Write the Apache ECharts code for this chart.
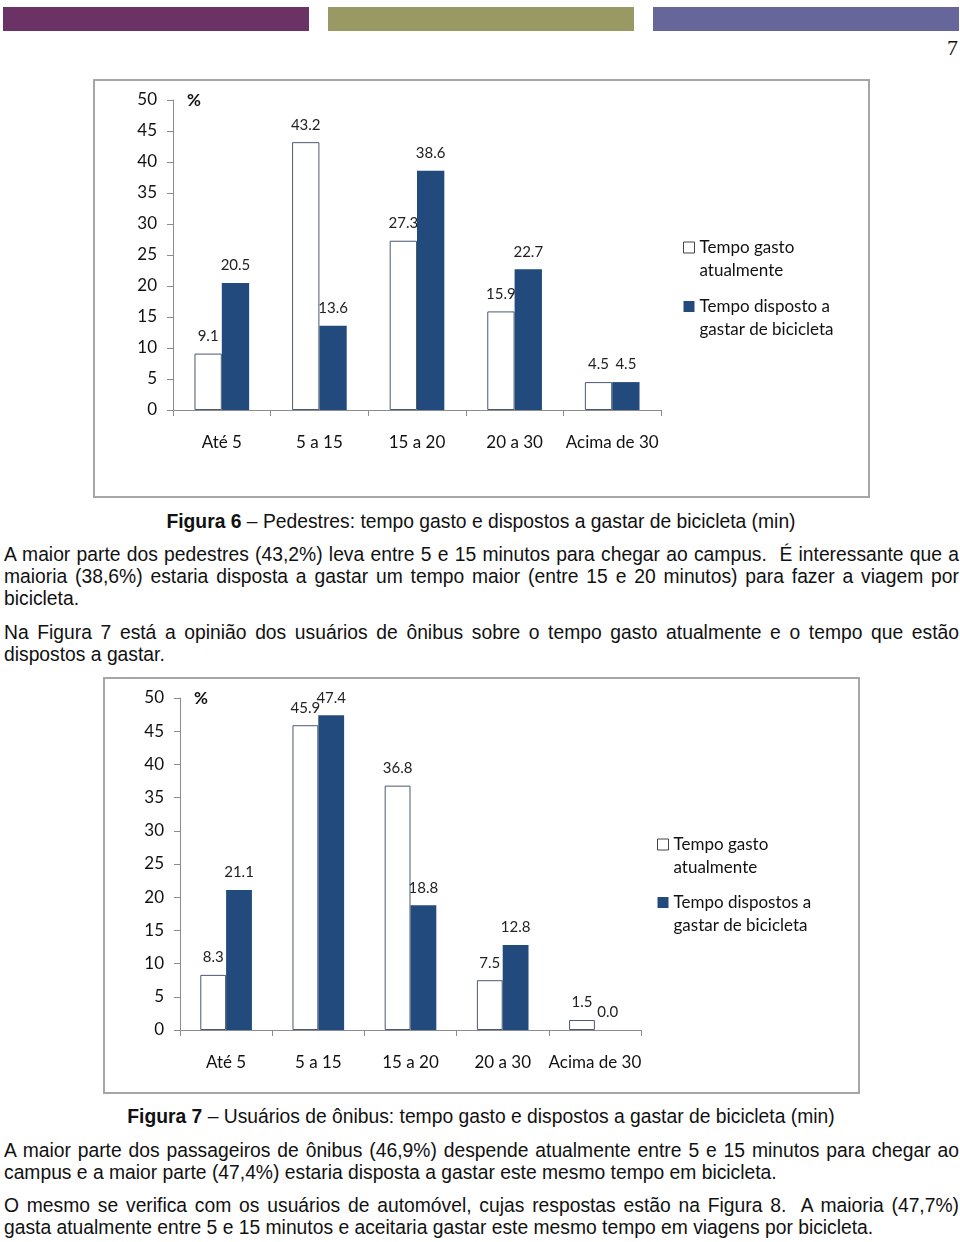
<!DOCTYPE html>
<html><head><meta charset="utf-8">
<script src="https://cdn.jsdelivr.net/npm/echarts@6/dist/echarts.min.js"></script>
<style>
html,body{margin:0;padding:0;background:#fff;}
body{width:960px;height:1242px;position:relative;overflow:hidden;font-family:"Liberation Sans",Arial,sans-serif;color:#111;}
.bar{position:absolute;top:7px;height:24px;}
.chart{position:absolute;border:2px solid #a6a6a6;box-sizing:border-box;}
.txt{position:absolute;left:4px;width:955px;font-size:19.3px;line-height:22px;text-align:justify;text-align-last:left;}
.cap{position:absolute;left:0;width:962px;font-size:19.3px;line-height:22px;text-align:center;}
</style></head>
<body>
<div class="bar" style="left:3px;width:306px;background:#6a3265"></div>
<div class="bar" style="left:328px;width:306px;background:#999a63"></div>
<div class="bar" style="left:653px;width:306px;background:#66669a"></div>
<div style="position:absolute;left:947px;top:35px;font-family:'Liberation Serif',serif;font-size:22px;">7</div>

<div id="c1" class="chart" style="left:93px;top:79px;width:777px;height:419px;"></div>
<div class="cap" style="top:511px;"><b>Figura 6</b> – Pedestres: tempo gasto e dispostos a gastar de bicicleta (min)</div>
<div class="txt" style="top:544px;">A maior parte dos pedestres (43,2%) leva entre 5 e 15 minutos para chegar ao campus.&nbsp; É interessante que a maioria (38,6%) estaria disposta a gastar um tempo maior (entre 15 e 20 minutos) para fazer a viagem por bicicleta.</div>
<div class="txt" style="top:622px;">Na Figura 7 está a opinião dos usuários de ônibus sobre o tempo gasto atualmente e o tempo que estão dispostos a gastar.</div>

<div id="c2" class="chart" style="left:103px;top:677px;width:757px;height:417px;"></div>
<div class="cap" style="top:1106px;"><b>Figura 7</b> – Usuários de ônibus: tempo gasto e dispostos a gastar de bicicleta (min)</div>
<div class="txt" style="top:1140px;">A maior parte dos passageiros de ônibus (46,9%) despende atualmente entre 5 e 15 minutos para chegar ao campus e a maior parte (47,4%) estaria disposta a gastar este mesmo tempo em bicicleta.</div>
<div class="txt" style="top:1195px;">O mesmo se verifica com os usuários de automóvel, cujas respostas estão na Figura 8.&nbsp; A maioria (47,7%) gasta atualmente entre 5 e 15 minutos e aceitaria gastar este mesmo tempo em viagens por bicicleta.</div>

<script>
const categories = ['Até 5', '5 a 15', '15 a 20', '20 a 30', 'Acima de 30'];
const yTicks = [0, 5, 10, 15, 20, 25, 30, 35, 40, 45, 50];
const fig6Atual = [9.1, 43.2, 27.3, 15.9, 4.5];
const fig6Disposto = [20.5, 13.6, 38.6, 22.7, 4.5];
const fig7Atual = [8.3, 45.9, 36.8, 7.5, 1.5];
const fig7Disposto = [21.1, 47.4, 18.8, 12.8, 0.0];
const fig6Names = ['Tempo gasto\natualmente', 'Tempo disposto a\ngastar de bicicleta'];
const fig7Names = ['Tempo gasto\natualmente', 'Tempo dispostos a\ngastar de bicicleta'];

const FONT = 'Lato, "Open Sans", sans-serif';
const BLUE = '#224a7c';
const EDGE = '#4b5870';

function makeOption(names, atual, disposto, g, lg) {
  const lab = {
    show: true, position: 'top', distance: 10, color: '#222',
    fontFamily: FONT, fontSize: 15,
    formatter: p => Number(p.value).toFixed(1)
  };
  return {
    animation: false,
    textStyle: { fontFamily: FONT },
    grid: { left: g.left, top: g.top, width: g.width, height: g.height },
    legend: {
      orient: 'vertical', left: lg.left, top: lg.top, itemGap: lg.gap,
      itemWidth: 11, itemHeight: 11, icon: 'rect',
      formatter: n => ' \n' + n,
      textStyle: { fontFamily: FONT, fontSize: 17, lineHeight: 23, color: '#111' },
      data: [
        { name: names[0], itemStyle: { color: '#fff', borderColor: '#444', borderWidth: 1 } },
        { name: names[1], itemStyle: { color: BLUE, borderWidth: 0 } }
      ]
    },
    graphic: [{ type: 'text', left: g.left + 14, top: g.top - 8,
      style: { text: '%', font: 'bold 17px ' + FONT, fill: '#111' } }],
    xAxis: {
      type: 'category', data: categories,
      axisLine: { lineStyle: { color: '#8c8c8c', width: 1 } },
      axisTick: { show: true, length: 6, lineStyle: { color: '#8c8c8c' } },
      axisLabel: { color: '#111', fontSize: 17, fontFamily: FONT, margin: 24, interval: 0 }
    },
    yAxis: {
      type: 'value', min: yTicks[0], max: yTicks[yTicks.length - 1], interval: yTicks[1] - yTicks[0],
      splitLine: { show: false },
      axisLine: { show: true, lineStyle: { color: '#8c8c8c', width: 1 } },
      axisTick: { show: true, length: 6, lineStyle: { color: '#8c8c8c' } },
      axisLabel: { color: '#111', fontSize: 17, fontFamily: FONT, margin: 16, padding: [3, 0, 0, 0] }
    },
    series: [
      { name: names[0], type: 'bar', data: atual, barWidth: '28%', barGap: '0%',
        itemStyle: { color: '#fff', borderColor: EDGE, borderWidth: 1 }, label: lab },
      { name: names[1], type: 'bar', data: disposto, barWidth: '28%', barGap: '0%',
        itemStyle: { color: BLUE }, label: lab }
    ]
  };
}

const c1 = echarts.init(document.getElementById('c1'));
c1.setOption(makeOption(fig6Names, fig6Atual, fig6Disposto,
  { left: 78, top: 19, width: 488, height: 310 }, { left: 583, top: 127, gap: -10 }));
const c2 = echarts.init(document.getElementById('c2'));
c2.setOption(makeOption(fig7Names, fig7Atual, fig7Disposto,
  { left: 75, top: 19, width: 461, height: 332 }, { left: 547, top: 126, gap: -11 }));
</script>
</body></html>
